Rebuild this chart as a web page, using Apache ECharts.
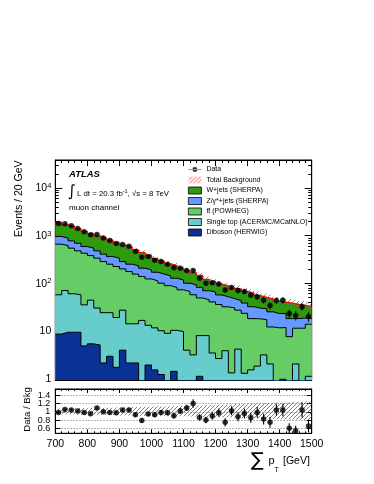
<!DOCTYPE html>
<html><head><meta charset="utf-8">
<script src="https://cdn.jsdelivr.net/npm/echarts@6/dist/echarts.min.js"></script>
<style>html,body{margin:0;padding:0;background:#fff}#c{width:374px;height:484px}</style>
</head><body><div id="c"></div>
<script>
// ---- data ----
const binLow = [700,720,740,760,780,800,820,840,860,880,900,920,940,960,980,1000,1020,1040,1060,1080,1100,1120,1140,1160,1180,1200,1220,1240,1260,1280,1300,1320,1340,1360,1380,1400,1420,1440,1460,1480];
const binEdgeMax = 1500;
const xTickLabels = [700,800,900,1000,1100,1200,1300,1400,1500];
const yMainTicks = [1,10,100,1000,10000];
const yRatioTicks = [0.6,0.8,1,1.2,1.4];

const wjets = [941,805,783,708,640,544,501,482,437,364,340,324,269,233,194,160,135,112,108,91,83,73,64,51,43,39,36,31,32,29,30,25,21,22,19,17,20,18,15.5,14];
const zjets = [297,268,231,213,163,165,143,123,112,112,85,75,76,69,68,58,55,54,46,44,33,35,33,24.5,25,21,20,17,16,15,14,12,12,13,11.4,11.4,10.5,6.7,7.2,4.3];
const ttbar = [605,547,486,422,392,337,306,261,227,205,173,162,141,121.5,110,100.5,90,80,71,63,63,54,41,37,37,33,28,29,23,22,16.5,16,14,10,11,10.7,7,9.3,10.8,12.6];
const singleTop = [48.5,60.7,50.7,47.7,30.2,38.7,25,21.9,21.1,17.3,23.1,11.9,11.9,16.5,11.1,10,8.8,8.8,8.8,9.6,3.9,3.1,6.8,7.9,3.4,2.6,3.8,1.3,4.1,1.27,1.5,1.8,3.1,2.0,0.5,0.95,0.5,2.0,0.5,1.1];
const diboson = [8.5,9.3,9.3,9.3,4.8,5.3,5.0,2.1,2.9,1.7,3.9,2.1,2.1,0,1.9,1.5,1.2,0,1.4,0,0,0,1.1,0,0,0,0,0,0,0,0,0,0,0,0,0,0,0,0,0];
const dataCounts = [1800,1780,1620,1420,1210,1040,1060,890,790,685,650,600,465,350,365,305,285,250,212,207,185,185,127,100,102,96,72,81,70,67,56,52,44,34,43,44,23,21,32,20];
const ratio = [0.985,1.057,1.041,1.017,0.985,0.953,1.089,1.0,0.985,0.977,1.041,1.041,0.928,0.792,0.945,0.928,0.985,0.977,0.904,1.017,1.093,1.2,0.864,0.8,0.896,0.977,0.744,1.025,0.88,0.96,0.856,0.985,0.824,0.744,1.041,1.041,0.6,0.543,1.041,0.655];
const ratioErr = [0.025,0.025,0.026,0.028,0.03,0.031,0.031,0.034,0.036,0.038,0.039,0.041,0.046,0.05,0.05,0.055,0.058,0.062,0.065,0.07,0.075,0.1,0.075,0.08,0.09,0.1,0.1,0.11,0.11,0.12,0.12,0.13,0.13,0.13,0.14,0.15,0.12,0.12,0.18,0.15];
const bandUp = [0.08,0.085,0.085,0.09,0.09,0.095,0.1,0.1,0.1,0.105,0.11,0.11,0.115,0.12,0.12,0.125,0.13,0.13,0.135,0.14,0.14,0.145,0.15,0.16,0.16,0.17,0.17,0.18,0.19,0.19,0.2,0.2,0.21,0.21,0.22,0.22,0.23,0.24,0.24,0.25];
const bandDn = [0.06,0.065,0.065,0.07,0.07,0.075,0.08,0.08,0.08,0.085,0.09,0.09,0.095,0.1,0.1,0.1,0.105,0.11,0.11,0.11,0.11,0.115,0.12,0.125,0.13,0.13,0.14,0.14,0.15,0.15,0.155,0.16,0.16,0.17,0.17,0.18,0.18,0.19,0.19,0.2];

// ---- helpers ----
const FONT = '"Liberation Sans", Arial, Helvetica, sans-serif';
const nb = binLow.length;
const binHigh = binLow.map((x,i)=> i+1<nb ? binLow[i+1] : binEdgeMax);
const centers = binLow.map((x,i)=> (x + binHigh[i])/2);
const floorZero = v => v > 0 ? v : 1e-3;
function stepData(vals){ const d = vals.map((v,i)=>[binLow[i], v]); d.push([binEdgeMax, vals[vals.length-1]]); return d; }

// cumulative stack (bottom -> top)
const layers = [diboson, singleTop, ttbar, zjets, wjets];
const cumul = [];
layers.forEach((arr,k)=>{ cumul.push(arr.map((v,i)=> v + (k>0 ? cumul[k-1][i] : 0))); });
const total = cumul[4];

function hatch(color, size, lw){
  const c = document.createElement('canvas'); c.width=size; c.height=size;
  const g = c.getContext('2d'); g.strokeStyle=color; g.lineWidth=lw;
  g.beginPath(); g.moveTo(0,size); g.lineTo(size,0);
  g.moveTo(-2,2); g.lineTo(2,-2); g.moveTo(size-2,size+2); g.lineTo(size+2,size-2); g.stroke();
  return {image:c, repeat:'repeat'};
}
const hatchGrey = hatch('#555', 5, 0.7);
const hatchRatio = hatch('#555', 4, 0.75);
const hatchLegend = hatch('#e33', 4, 0.9);

const comps = [
  {name:'Diboson (HERWIG)', color:'#0a3296'},
  {name:'Single top (ACERMC/MCatNLO)', color:'#66cccc'},
  {name:'t\u0074\u0304 (POWHEG)', color:'#66cc66'},
  {name:'Z/\u03b3*+jets (SHERPA)', color:'#6699ff'},
  {name:'W+jets (SHERPA)', color:'#2e9a0e'}
];

const series = [];
// draw top layer first, lower layers over it (like a ROOT THStack)
for (let k=4; k>=0; k--){
  const c = comps[k];
  series.push({
    type:'line', name:c.name, xAxisIndex:0, yAxisIndex:0, step:'end', symbol:'none',
    data: stepData(cumul[k].map(floorZero)),
    lineStyle:{color: k===4 ? '#ff0000' : '#000', width: k===4 ? 1.3 : 1},
    itemStyle:{color:c.color},
    areaStyle:{color:c.color, opacity:1, origin:'start'},
    z: 3 + (4-k), silent:true, clip:true
  });
}
// band rectangles (custom)
const bandSeries = (xi, yi, name, rows, fill, z)=>({
  type:'custom', name:name, xAxisIndex:xi, yAxisIndex:yi, clip:true, silent:true, z:z,
  data: rows,
  encode:{x:[0,1], y:[2,3]},
  renderItem:(p,api)=>{ const a=api.coord([api.value(0), api.value(3)]), b=api.coord([api.value(1), api.value(2)]);
    return {type:'rect', shape:{x:a[0], y:a[1], width:b[0]-a[0], height:b[1]-a[1]}, style:{fill:fill, stroke:null}}; }
});
series.push(bandSeries(0,0,'Total Background', total.map((t,i)=>[binLow[i], binHigh[i], t*(1-bandDn[i]), t*(1+bandUp[i])]), hatchGrey, 9));
// data
const errBar = (xi, yi)=>({
  type:'custom', xAxisIndex:xi, yAxisIndex:yi, clip:true, silent:true, z:11,
  renderItem:(p,api)=>{ const x=api.value(0), y=api.value(1), e=api.value(2);
    const a=api.coord([x,y-e]), b=api.coord([x,y+e]);
    return {type:'line', shape:{x1:a[0],y1:a[1],x2:b[0],y2:b[1]}, style:{stroke:'#000', lineWidth:1.1}}; },
  encode:{x:0,y:1}
});
series.push(Object.assign(errBar(0,0), {name:'dataErr', data: dataCounts.map((v,i)=>[centers[i], v, Math.sqrt(v)])}));
series.push({type:'scatter', name:'Data', xAxisIndex:0, yAxisIndex:0, symbol:'circle', symbolSize:5.5,
  itemStyle:{color:'#000'}, data: dataCounts.map((v,i)=>[centers[i], v]), z:12, silent:true});
// ratio panel
series.push(bandSeries(2,2,'rBand', bandUp.map((u,i)=>[binLow[i], binHigh[i], 1-bandDn[i], 1+u]), hatchRatio, 3));
series.push(Object.assign(errBar(2,2), {name:'ratioErr', data: ratio.map((v,i)=>[centers[i], v, ratioErr[i]])}));
series.push({type:'scatter', name:'Ratio', xAxisIndex:2, yAxisIndex:2, symbol:'circle', symbolSize:5.5,
  itemStyle:{color:'#000'}, data: ratio.map((v,i)=>[centers[i], v]), z:12, silent:true});

const black = {color:'#000', width:1};
function xAx(grid, pos, labels, tl, ml){
  return {type:'value', gridIndex:grid, position:pos, min:700, max:1500, interval:100,
    axisLine:{show:true, onZero:false, lineStyle:black},
    axisTick:{show:true, inside:true, length:tl, lineStyle:black},
    minorTick:{show:true, splitNumber:5, length:ml, lineStyle:black},
    splitLine:{show:false},
    axisLabel:{show:labels, fontSize:10.5, color:'#000', fontFamily:FONT, margin:5, hideOverlap:false,
      showMinLabel:true, showMaxLabel:true, formatter:(v)=>String(v),
      customValues: labels ? xTickLabels : undefined}};
}
function yLog(grid, pos, labels){
  return {type:'log', logBase:10, gridIndex:grid, position:pos, min:0.92, max:39000,
    axisLine:{show:true, onZero:false, lineStyle:black},
    axisTick:{show:true, inside:true, length:7, lineStyle:black},
    minorTick:{show:true, splitNumber:9, length:3.5, lineStyle:black},
    splitLine:{show:false},
    axisLabel:{show:labels, customValues: yMainTicks, margin:4, color:'#000', fontFamily:FONT, hideOverlap:false,
      showMinLabel:true, showMaxLabel:true,
      formatter:(v)=>{ const e=Math.round(Math.log10(v)); if(e===0) return '{b|1}'; if(e===1) return '{b|10}'; return '{b|10}{s|'+e+'}'; },
      rich:{b:{fontSize:10.5, color:'#000', fontFamily:FONT, verticalAlign:'bottom', lineHeight:12},
            s:{fontSize:7.5, color:'#000', fontFamily:FONT, verticalAlign:'top', lineHeight:8, padding:[0,0,5,0]}}}};
}
function yRatio(grid, pos, labels, labelVals, drawAxis){
  return {type:'value', gridIndex:grid, position:pos, min:0.48, max:1.55,
    axisLine:{show:drawAxis, onZero:false, lineStyle:black},
    axisTick:{show:drawAxis, inside:true, length:5, lineStyle:black, customValues:yRatioTicks},
    splitLine:{show:drawAxis && pos==='left', lineStyle:{color:'#888', width:0.8, type:[1.5,1.5]}},
    axisLabel:{show:labels, customValues:labelVals, fontSize:9, color:'#000', fontFamily:FONT, margin:5, hideOverlap:false,
      showMinLabel:true, showMaxLabel:true,
      formatter:(v)=> String(Math.round(v*10)/10)}};
}

const legendItems = [
  {name:'Data', icon:'path://M0,3.2H13V3.8H0Z M6.5,1A2.5,2.5,0,1,0,6.501,1Z M0,0H0.01V0.01H0Z M0,7H0.01V7.01H0Z', itemStyle:{color:'#000', borderWidth:0}},
  {name:'Total Background', icon:'rect', itemStyle:{color:hatchLegend, borderWidth:0}},
].concat(comps.slice().reverse().map(c=>({name:c.name, icon:'rect', itemStyle:{color:c.color, borderColor:'#000', borderWidth:0.8}})));

const option = {
  animation:false,
  textStyle:{fontFamily:FONT},
  grid:[
    {left:55.3, top:160, width:256.4, height:220, show:true, borderColor:'#000', borderWidth:1, backgroundColor:'transparent', outerBoundsMode:'none', containLabel:false},
    {left:55.3, top:389, width:256.4, height:44.3, show:true, borderColor:'#000', borderWidth:1, backgroundColor:'transparent', outerBoundsMode:'none', containLabel:false}
  ],
  xAxis:[ xAx(0,'bottom',false,6,3), xAx(0,'top',false,6,3), xAx(1,'bottom',true,4,2), xAx(1,'top',false,4,2) ],
  yAxis:[ yLog(0,'left',true), yLog(0,'right',false),
          yRatio(1,'left',true,[0.6,1,1.4],true), yRatio(1,'right',false,yRatioTicks,true),
          yRatio(1,'left',true,[0.8,1.2],false) ],
  legend:{orient:'vertical', left:188, top:165.5, z:30, itemWidth:13, itemHeight:7, itemGap:2.5, padding:0, selectedMode:false,
    textStyle:{fontSize:7, color:'#000', fontFamily:FONT, lineHeight:8}, data:legendItems},
  graphic:[
    {type:'text', x:69, y:174, z:30, silent:true, style:{text:'ATLAS', font:'italic bold 9.5px '+FONT, fill:'#000', align:'left', verticalAlign:'middle', textAlign:'left', textVerticalAlign:'middle'}},
    {type:'text', x:67.5, y:191.5, z:30, silent:true, style:{text:'\u222B', font:'16px "DejaVu Sans", sans-serif', fill:'#000', align:'left', verticalAlign:'middle', textAlign:'left', textVerticalAlign:'middle'}},
    {type:'text', x:77, y:193, z:30, silent:true, style:{text:'{n|L dt = 20.3 fb}{s|-1}{n|, \u221As = 8 TeV}', fill:'#000', align:'left', verticalAlign:'middle', textAlign:'left', textVerticalAlign:'middle',
      rich:{n:{fontSize:7.8, fontFamily:FONT, fill:'#000', verticalAlign:'bottom', lineHeight:9}, s:{fontSize:5.5, fontFamily:FONT, fill:'#000', verticalAlign:'top', lineHeight:6, padding:[0,0,4,0]}}}},
    {type:'text', x:69, y:207.5, z:30, silent:true, style:{text:'muon channel', font:'8px '+FONT, fill:'#000', align:'left', verticalAlign:'middle', textAlign:'left', textVerticalAlign:'middle'}},
    {type:'text', x:19.5, y:160.5, rotation:Math.PI/2, silent:true, style:{text:'Events / 20 GeV', font:'10.5px '+FONT, fill:'#000', align:'right', verticalAlign:'middle', textAlign:'right', textVerticalAlign:'middle'}},
    {type:'text', x:27.5, y:409.5, rotation:Math.PI/2, silent:true, style:{text:'Data / Bkg', font:'9.5px '+FONT, fill:'#000', align:'center', verticalAlign:'middle', textAlign:'center', textVerticalAlign:'middle'}},
    {type:'text', x:251, y:461, silent:true, style:{text:'\u2211', font:'19px "DejaVu Sans", sans-serif', fill:'#000', align:'left', verticalAlign:'middle', textAlign:'left', textVerticalAlign:'middle'}},
    {type:'text', x:268.5, y:461, silent:true, style:{text:'p', font:'11px '+FONT, fill:'#000', align:'left', verticalAlign:'middle', textAlign:'left', textVerticalAlign:'middle'}},
    {type:'text', x:274.5, y:470.5, silent:true, style:{text:'T', font:'7px '+FONT, fill:'#000', align:'left', verticalAlign:'middle', textAlign:'left', textVerticalAlign:'middle'}},
    {type:'text', x:283, y:461, silent:true, style:{text:'[GeV]', font:'10.5px '+FONT, fill:'#000', align:'left', verticalAlign:'middle', textAlign:'left', textVerticalAlign:'middle'}}
  ],
  series: series
};
const chart = echarts.init(document.getElementById('c'), null, {renderer:'canvas'});
chart.setOption(option);
</script>
</body></html>
